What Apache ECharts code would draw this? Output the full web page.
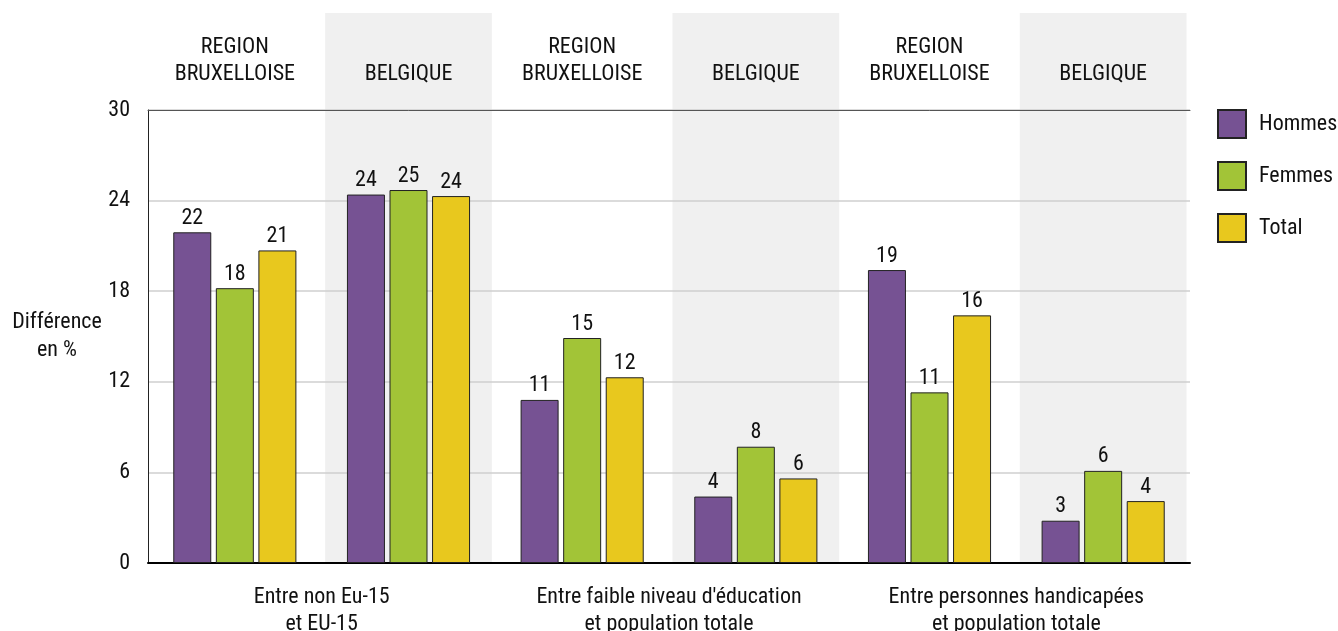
<!DOCTYPE html>
<html>
<head>
<meta charset="utf-8">
<script src="https://cdn.jsdelivr.net/npm/echarts@6/dist/echarts.min.js"></script>
<style>
  html, body { margin: 0; padding: 0; background: #fff; }
  #chart { width: 1338px; height: 631px; }
</style>
</head>
<body>
<div id="chart"></div>
<script>
// donnees
var zones = ['REGION\nBRUXELLOISE', 'BELGIQUE', 'REGION\nBRUXELLOISE', 'BELGIQUE', 'REGION\nBRUXELLOISE', 'BELGIQUE'];
var groupes = ['Entre non Eu-15\net EU-15', "Entre faible niveau d'éducation\net population totale", 'Entre personnes handicapées\net population totale'];
var hommes = [21.9, 24.4, 10.8, 4.4, 19.4, 2.8];
var femmes = [18.2, 24.7, 14.9, 7.7, 11.3, 6.1];
var total = [20.7, 24.3, 12.3, 5.6, 16.4, 4.1];
var yTicks = [0, 6, 12, 18, 24, 30];

var font = "'Liberation Sans Narrow', 'Roboto Condensed', 'DejaVu Sans Condensed', sans-serif";

var chart = echarts.init(document.getElementById('chart'));

function barSerie(name, data, color) {
    return {
        name: name,
        type: 'bar',
        data: data,
        barWidth: 38,
        barGap: '12%',
        itemStyle: { color: color, borderColor: '#222', borderWidth: 1 },
        label: {
            show: true,
            position: 'top',
            distance: 3,
            color: '#111',
            fontFamily: font,
            fontSize: 22,
            formatter: function (p) { return Math.round(p.value); }
        }
    };
}

var option = {
    animation: false,
    backgroundColor: '#fff',
    grid: { left: 148, right: 148, top: 110, bottom: 68, outerBoundsMode: 'none' },
    legend: {
        orient: 'vertical',
        left: 1217,
        top: 109,
        padding: 0,
        itemWidth: 28,
        itemHeight: 28,
        itemGap: 22,
        icon: 'rect',
        textStyle: { fontFamily: font, fontSize: 22, color: '#111', padding: [0, 0, 0, 8] },
        data: ['Hommes', 'Femmes', 'Total']
    },
    xAxis: [
        {
            type: 'category',
            data: zones,
            position: 'bottom',
            axisLine: { lineStyle: { color: '#000', width: 2 } },
            axisTick: { show: false },
            axisLabel: { show: false }
        },
        {
            type: 'category',
            data: zones,
            position: 'top',
            axisLine: { lineStyle: { color: '#555', width: 1 } },
            axisTick: { show: false },
            axisLabel: {
                margin: 22,
                fontFamily: font,
                fontSize: 22,
                lineHeight: 27,
                color: '#111'
            }
        },
        {
            type: 'category',
            data: groupes,
            position: 'bottom',
            axisLine: { show: false },
            axisTick: { show: false },
            axisLabel: {
                margin: 21,
                fontFamily: font,
                fontSize: 22,
                lineHeight: 27,
                color: '#111'
            }
        }
    ],
    yAxis: {
        type: 'value',
        min: yTicks[0],
        max: yTicks[yTicks.length - 1],
        interval: 6,
        name: 'Différence\nen %',
        nameLocation: 'middle',
        nameRotate: 0,
        nameGap: 91,
        nameTextStyle: {
            fontFamily: font, fontSize: 22, lineHeight: 28, color: '#111',
            align: 'center', padding: [18, 0, 0, 0]
        },
        axisLine: { show: true, lineStyle: { color: '#222', width: 1 } },
        axisTick: { show: false },
        axisLabel: { margin: 18, fontFamily: font, fontSize: 22, color: '#111' },
        splitLine: { lineStyle: { color: '#cfcfcf', width: 1.5 } }
    },
    series: [
        barSerie('Hommes', hommes, '#765293'),
        barSerie('Femmes', femmes, '#a2c437'),
        barSerie('Total', total, '#e8c81e')
    ]
};

chart.setOption(option);

// bandes grises derriere les colonnes BELGIQUE
var x0 = chart.convertToPixel({ xAxisIndex: 0 }, 0);
var x1 = chart.convertToPixel({ xAxisIndex: 0 }, 1);
var step = x1 - x0;
var yBas = chart.convertToPixel({ yAxisIndex: 0 }, 0);
var bandes = [];
zones.forEach(function (z, i) {
    if (z !== 'BELGIQUE') return;
    var cx = chart.convertToPixel({ xAxisIndex: 0 }, i);
    var w = step * 0.96;
    bandes.push({
        type: 'rect',
        z: -10,
        silent: true,
        shape: { x: cx - w / 2, y: 13, width: w, height: yBas - 13 },
        style: { fill: '#f0f0f0' }
    });
});
chart.setOption({ graphic: bandes });
</script>
</body>
</html>
